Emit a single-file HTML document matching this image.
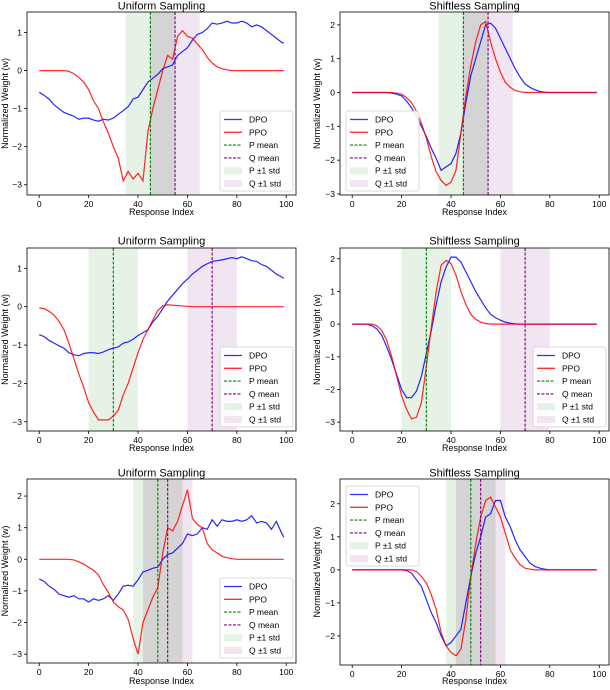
<!DOCTYPE html>
<html><head><meta charset="utf-8"><style>
body{margin:0;background:#fff}
svg{display:block;font-family:"Liberation Sans","DejaVu Sans",sans-serif}
</style></head><body>
<svg id="fig" width="610" height="690" viewBox="0 0 610 690" xmlns="http://www.w3.org/2000/svg"></svg>
<script>
const xIdx = [0,2,4,6,8,10,12,14,16,18,20,22,24,26,28,30,32,34,36,38,40,42,44,46,48,50,52,54,56,58,60,62,64,66,68,70,72,74,76,78,80,82,84,86,88,90,92,94,96,98,99];
const dpoA = [-0.57,-0.65,-0.75,-0.9,-1.0,-1.1,-1.15,-1.2,-1.28,-1.25,-1.25,-1.3,-1.33,-1.28,-1.3,-1.25,-1.15,-1.05,-0.95,-0.75,-0.7,-0.5,-0.3,-0.2,-0.1,0.05,0.1,0.15,0.4,0.5,0.6,0.8,0.95,1.0,1.1,1.25,1.22,1.25,1.3,1.25,1.25,1.3,1.25,1.15,1.2,1.15,1.05,0.95,0.85,0.75,0.72];
const ppoA = [0,0,0,0,0,0,-0.02,-0.08,-0.18,-0.3,-0.5,-0.8,-1.0,-1.35,-1.65,-2.0,-2.3,-2.9,-2.65,-2.85,-2.7,-2.9,-1.6,-1.0,-0.5,0.0,0.4,0.3,0.9,1.05,0.9,0.85,0.7,0.55,0.35,0.2,0.1,0.05,0.02,0,0,0,0,0,0,0,0,0,0,0,0];
const dpoB = [0,0,0,0,0,0,0,0,-0.02,-0.05,-0.1,-0.25,-0.45,-0.7,-1.0,-1.3,-1.65,-1.95,-2.3,-2.2,-2.1,-1.8,-1.2,-0.3,0.5,1.0,1.5,2.0,2.05,1.9,1.6,1.3,1.0,0.7,0.45,0.25,0.15,0.08,0.03,0.01,0,0,0,0,0,0,0,0,0,0,0];
const ppoB = [0,0,0,0,0,0,0,0,0,-0.02,-0.05,-0.15,-0.3,-0.55,-0.9,-1.35,-1.9,-2.35,-2.6,-2.75,-2.65,-2.3,-1.2,-0.1,0.8,1.5,2.0,2.1,1.5,1.0,0.6,0.3,0.15,0.06,0.02,0,0,0,0,0,0,0,0,0,0,0,0,0,0,0,0];
const dpoC = [-0.73,-0.78,-0.88,-0.95,-1.02,-1.08,-1.2,-1.25,-1.28,-1.22,-1.2,-1.2,-1.22,-1.18,-1.12,-1.08,-1.05,-0.95,-0.92,-0.85,-0.75,-0.68,-0.6,-0.4,-0.25,-0.05,0.15,0.3,0.45,0.6,0.72,0.85,0.95,1.05,1.12,1.18,1.2,1.22,1.25,1.28,1.25,1.3,1.25,1.2,1.18,1.1,1.05,0.95,0.85,0.78,0.74];
const ppoC = [-0.03,-0.05,-0.12,-0.22,-0.38,-0.6,-0.95,-1.35,-1.75,-2.1,-2.5,-2.75,-2.95,-2.95,-2.95,-2.85,-2.7,-2.3,-2.0,-1.6,-1.2,-0.85,-0.6,-0.35,-0.1,0.02,0.05,0.04,0.03,0.02,0.01,0,0,0,0,0,0,0,0,0,0,0,0,0,0,0,0,0,0,0,0];
const dpoD = [0,0,0,0,-0.05,-0.15,-0.35,-0.7,-1.1,-1.55,-2.0,-2.25,-2.25,-2.05,-1.6,-0.9,-0.2,0.6,1.3,1.75,2.05,2.05,1.9,1.6,1.3,1.0,0.75,0.5,0.3,0.2,0.12,0.06,0.03,0.01,0,0,0,0,0,0,0,0,0,0,0,0,0,0,0,0,0];
const ppoD = [0,0,0,0,0,-0.05,-0.2,-0.5,-1.0,-1.6,-2.2,-2.6,-2.9,-2.85,-2.4,-1.3,-0.1,1.0,1.8,1.95,1.85,1.5,1.0,0.6,0.3,0.15,0.06,0.02,0,0,0,0,0,0,0,0,0,0,0,0,0,0,0,0,0,0,0,0,0,0,0];
const dpoE = [-0.62,-0.7,-0.85,-0.95,-1.1,-1.15,-1.2,-1.15,-1.25,-1.25,-1.35,-1.25,-1.3,-1.25,-1.15,-1.3,-1.1,-0.85,-0.82,-0.85,-0.65,-0.4,-0.35,-0.28,-0.25,0.0,0.15,0.2,0.35,0.5,0.8,0.75,0.8,1.0,0.95,1.25,1.05,1.25,1.2,1.2,1.25,1.2,1.25,1.38,1.15,1.2,1.15,0.95,1.2,0.85,0.7];
const ppoE = [0,0,0,0,0,0,0,-0.02,-0.08,-0.15,-0.25,-0.35,-0.5,-0.8,-1.05,-1.35,-1.5,-1.6,-1.9,-2.5,-3.0,-2.0,-1.6,-1.2,-0.9,0.2,1.0,0.9,1.2,1.7,2.2,1.3,1.1,1.0,0.5,0.3,0.2,0.1,0.05,0.02,0,0,0,0,0,0,0,0,0,0,0];
const dpoF = [0,0,0,0,0,0,0,0,0,0,0,-0.02,-0.1,-0.3,-0.5,-0.9,-1.3,-1.6,-2.0,-2.3,-2.2,-2.0,-1.8,-1.0,-0.2,0.5,1.0,1.6,1.7,2.1,2.1,1.6,1.3,0.9,0.6,0.4,0.2,0.1,0.05,0.02,0,0,0,0,0,0,0,0,0,0,0];
const ppoF = [0,0,0,0,0,0,0,0,0,0,0,0,0,-0.05,-0.2,-0.4,-0.75,-1.2,-1.9,-2.3,-2.5,-2.6,-2.4,-1.5,-0.2,0.8,1.6,2.1,2.2,1.9,1.6,1.1,0.6,0.35,0.15,0.05,0.02,0,0,0,0,0,0,0,0,0,0,0,0,0,0];
const pMeans = [45,45,30,30,48,48];
const qMeans = [55,55,70,70,52,52];
const stds = [10,10,10,10,10,10];
const titles = ["Uniform Sampling","Shiftless Sampling","Uniform Sampling","Shiftless Sampling","Uniform Sampling","Shiftless Sampling"];
const xTicks = [0,20,40,60,80,100];
const yTicksA = [-3,-2,-1,0,1], yTicksB = [-3,-2,-1,0,1,2], yTicksF = [-2,-1,0,1,2];
const legendLabels = ["DPO","PPO","P mean","Q mean","P \u00b11 std","Q \u00b11 std"];

const NS="http://www.w3.org/2000/svg";
const svg=document.getElementById('fig');
function mk(tag,attrs,parent){const e=document.createElementNS(NS,tag);for(const k in attrs)e.setAttribute(k,attrs[k]);(parent||svg).appendChild(e);return e;}

const panels=[
 {L:27,R:296,T:12,B:195,ymin:-3.27,ymax:1.54,dpo:dpoA,ppo:ppoA,yt:yTicksA,leg:[220,111,'r'],ty:6,xly:212,ylx:5},
 {L:340,R:609,T:12,B:195,ymin:-3.03,ymax:2.38,dpo:dpoB,ppo:ppoB,yt:yTicksB,leg:[346,111,'l'],ty:6,xly:212,ylx:317},
 {L:27,R:296,T:248,B:431,ymin:-3.24,ymax:1.53,dpo:dpoC,ppo:ppoC,yt:yTicksA,leg:[220,347,'r'],ty:241,xly:448,ylx:5},
 {L:340,R:609,T:248,B:431,ymin:-3.27,ymax:2.33,dpo:dpoD,ppo:ppoD,yt:yTicksB,leg:[533,347,'r'],ty:241,xly:448,ylx:317},
 {L:27,R:296,T:479,B:663,ymin:-3.28,ymax:2.54,dpo:dpoE,ppo:ppoE,yt:yTicksB,leg:[220,578,'r'],ty:473,xly:681,ylx:5},
 {L:340,R:609,T:479,B:665,ymin:-2.88,ymax:2.75,dpo:dpoF,ppo:ppoF,yt:yTicksF,leg:[346,486,'l'],ty:473,xly:681,ylx:317}
];

panels.forEach((p,i)=>{
  const g=mk('g',{});
  
  
  const xmin=-4.95,xmax=103.95;
  const sx=v=>p.L+(v-xmin)/(xmax-xmin)*(p.R-p.L);
  const sy=v=>p.B-(v-p.ymin)/(p.ymax-p.ymin)*(p.B-p.T);
  const clip=mk('clipPath',{id:'c'+i},g);
  mk('rect',{x:p.L,y:p.T,width:p.R-p.L,height:p.B-p.T},clip);
  const plot=mk('g',{'clip-path':'url(#c'+i+')'},g);
  const pm=pMeans[i],qm=qMeans[i],s=stds[i];
  const pb=mk('rect',{x:sx(pm-s),y:p.T,width:sx(pm+s)-sx(pm-s),height:p.B-p.T,fill:'#e5f2e5'},plot);
  
  
  const qb=mk('rect',{x:sx(qm-s),y:p.T,width:sx(qm+s)-sx(qm-s),height:p.B-p.T,fill:'#f2e5f2'},plot);
  
  
  const lo=Math.max(pm-s,qm-s),hi=Math.min(pm+s,qm+s);
  if(hi>lo){const ob=mk('rect',{x:sx(lo),y:p.T,width:sx(hi)-sx(lo),height:p.B-p.T,fill:'#d4d4d4'},plot);
    
    }
  const dp=mk('polyline',{points:p.dpo.map((v,k)=>sx(xIdx[k])+','+sy(v)).join(' '),fill:'none',stroke:'#0000ff','stroke-width':1.2,'stroke-opacity':0.85},plot);
  
  
  const pp=mk('polyline',{points:p.ppo.map((v,k)=>sx(xIdx[k])+','+sy(v)).join(' '),fill:'none',stroke:'#ff0000','stroke-width':1.2,'stroke-opacity':0.85},plot);
  
  
  const pl=mk('line',{x1:sx(pm),x2:sx(pm),y1:p.T,y2:p.B,stroke:'#008000','stroke-width':1.1,'stroke-dasharray':'3,1.5'},plot);
  
  
  const ql=mk('line',{x1:sx(qm),x2:sx(qm),y1:p.T,y2:p.B,stroke:'#800080','stroke-width':1.1,'stroke-dasharray':'3,1.5'},plot);
  
  
  mk('rect',{x:p.L,y:p.T,width:p.R-p.L,height:p.B-p.T,fill:'none',stroke:'#000','stroke-width':0.8},g);
  xTicks.forEach(t=>{
    mk('line',{x1:sx(t),x2:sx(t),y1:p.B,y2:p.B+3,stroke:'#000','stroke-width':0.8},g);
    const tx=mk('text',{x:sx(t),y:p.B+12,'font-size':8.5,'text-anchor':'middle'},g);tx.textContent=t;
    
    
  });
  p.yt.forEach(t=>{
    mk('line',{x1:p.L-3,x2:p.L,y1:sy(t),y2:sy(t),stroke:'#000','stroke-width':0.8},g);
    const tx=mk('text',{x:p.L-5,y:sy(t)+3,'font-size':8.5,'text-anchor':'end'},g);tx.textContent=(t<0?'\u2212'+(-t):t);
    
    
  });
  const ti=mk('text',{x:(p.L+p.R)/2,y:p.ty+3.5,'font-size':11,'text-anchor':'middle'},g);ti.textContent=titles[i];
  
  
  const xl=mk('text',{x:(p.L+p.R)/2,y:p.xly+3,'font-size':9,'text-anchor':'middle'},g);xl.textContent='Response Index';
  
  
  const cy=(p.T+p.B)/2;
  const yl=mk('text',{x:p.ylx+3,y:cy,'font-size':9,'text-anchor':'middle',transform:'rotate(-90 '+(p.ylx+3)+' '+cy+')'},g);yl.textContent='Normalized Weight (w)';
  
  
  const lg=mk('g',{},g);
  
  
  const lx=p.leg[0],ly=p.leg[1];
  mk('rect',{x:lx,y:ly,width:73,height:80,rx:2,fill:'#fff','fill-opacity':0.85,stroke:'#d0d0d0','stroke-width':0.8},lg);
  legendLabels.forEach((lab,k)=>{
    const yy=ly+8.5+k*12.8;
    const e=mk('g',{},lg);
    
    
    if(k<2) mk('line',{x1:lx+4,x2:lx+22,y1:yy,y2:yy,stroke:k?'#ff3030':'#3030ff','stroke-width':1.3},e);
    else if(k<4) mk('line',{x1:lx+4,x2:lx+22,y1:yy,y2:yy,stroke:k==2?'#008000':'#800080','stroke-width':1.1,'stroke-dasharray':'3,1.5'},e);
    else mk('rect',{x:lx+4,y:yy-3.5,width:18,height:7,fill:k==4?'#e5f2e5':'#f2e5f2'},e);
    const t=mk('text',{x:lx+29,y:yy+3,'font-size':8.5},e);t.textContent=lab;
  });
});
</script>
</body></html>
